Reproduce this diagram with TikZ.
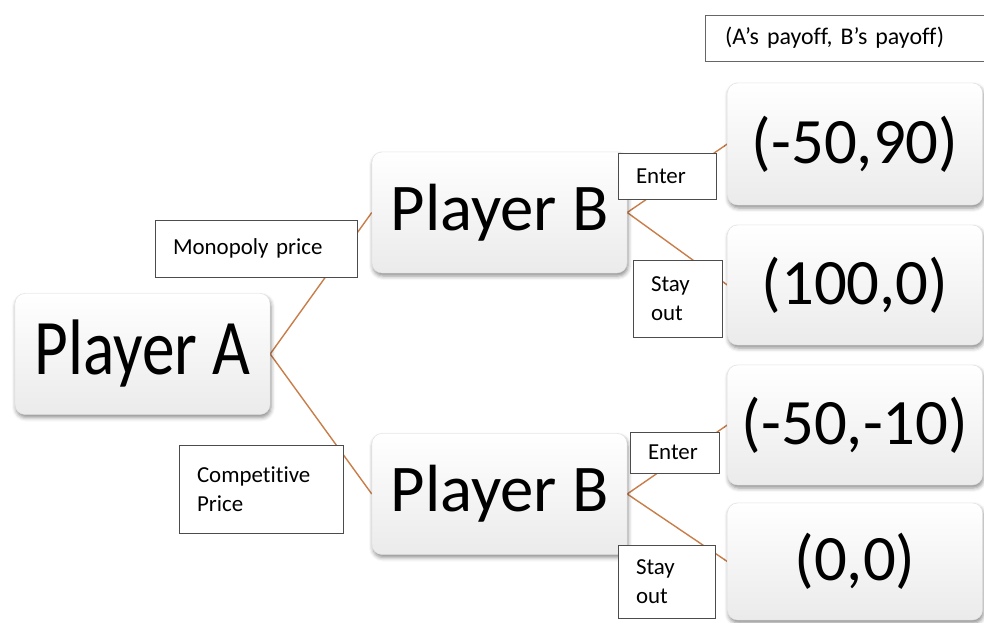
\documentclass[tikz,border=0pt]{standalone}
\usepackage{fontspec}
\setmainfont{Carlito}[Ligatures=NoCommon]
\usepackage{graphicx}
\usetikzlibrary{shadows.blur}
\usetikzlibrary{backgrounds}

\definecolor{branch}{RGB}{201,125,72}
\tikzset{
  card/.style={rounded corners=10bp, draw=gray!25, top color=white, bottom color=gray!16,
    minimum width=255bp, minimum height=121bp,
    blur shadow={shadow xshift=1bp, shadow yshift=-3bp, shadow blur radius=4bp, shadow opacity=45}},
  tag/.style={draw=black!70, fill=white, inner xsep=18bp, inner ysep=0pt, align=left,
    font=\fontsize{23}{29}\selectfont},
  branchline/.style={draw=branch, line width=1.4bp}
}

\begin{document}
\begin{tikzpicture}[x=1bp,y=-1bp]
\clip (0,0) rectangle (984,623);

% players
\node[card, font=\fontsize{79}{80}\selectfont] (pA) at (142.5,354) {\scalebox{0.83}[1]{Player A}};
\node[card, font=\fontsize{67}{68}\selectfont] (pBtop) at (499.5,212.5) {Player B};
\node[card, font=\fontsize{67}{68}\selectfont] (pBbot) at (499.5,494) {Player B};

% payoffs
\node[card, minimum height=122bp, font=\fontsize{65}{66}\selectfont] (pay1) at (855,144) {(-50,90)};
\node[card, minimum height=120bp, font=\fontsize{65}{66}\selectfont] (pay2) at (855,285) {(100,0)};
\node[card, minimum height=120bp, font=\fontsize{65}{66}\selectfont] (pay3) at (855,425) {(-50,-10)};
\node[card, minimum height=117bp, font=\fontsize{65}{66}\selectfont] (pay4) at (855,561.5) {(0,0)};

% branches
\begin{scope}[on background layer]
\draw[branchline] (pA.east) -- (pBtop.west);
\draw[branchline] (pA.east) -- (pBbot.west);
\draw[branchline] (pBtop.east) -- (pay1.west);
\draw[branchline] (pBtop.east) -- (pay2.west);
\draw[branchline] (pBbot.east) -- (pay3.west);
\draw[branchline] (pBbot.east) -- (pay4.west);
\end{scope}

% moves
\node[tag, text width=166bp, minimum height=57bp] (mono) at (256,248.5) {Monopoly price};
\node[tag, text width=128bp, minimum height=88bp] (comp) at (261,489) {Competitive\\Price};
\node[tag, text width=62bp, minimum height=46bp] (enterA) at (667,176) {Enter};
\node[tag, text width=53bp, minimum height=77bp] (stayA) at (677.5,298.5) {Stay\\out};
\node[tag, text width=53bp, minimum height=41bp] (enterB) at (674.5,452.5) {Enter};
\node[tag, text width=61bp, minimum height=73bp] (stayB) at (666.5,581.5) {Stay\\out};

% legend
\node[tag, draw=black!60, inner xsep=20bp, text width=255bp, minimum height=46bp,
  font=\fontsize{24}{26}\selectfont] (legend) at (852.5,38) {(A’s payoff, B’s payoff)};
\end{tikzpicture}
\end{document}
